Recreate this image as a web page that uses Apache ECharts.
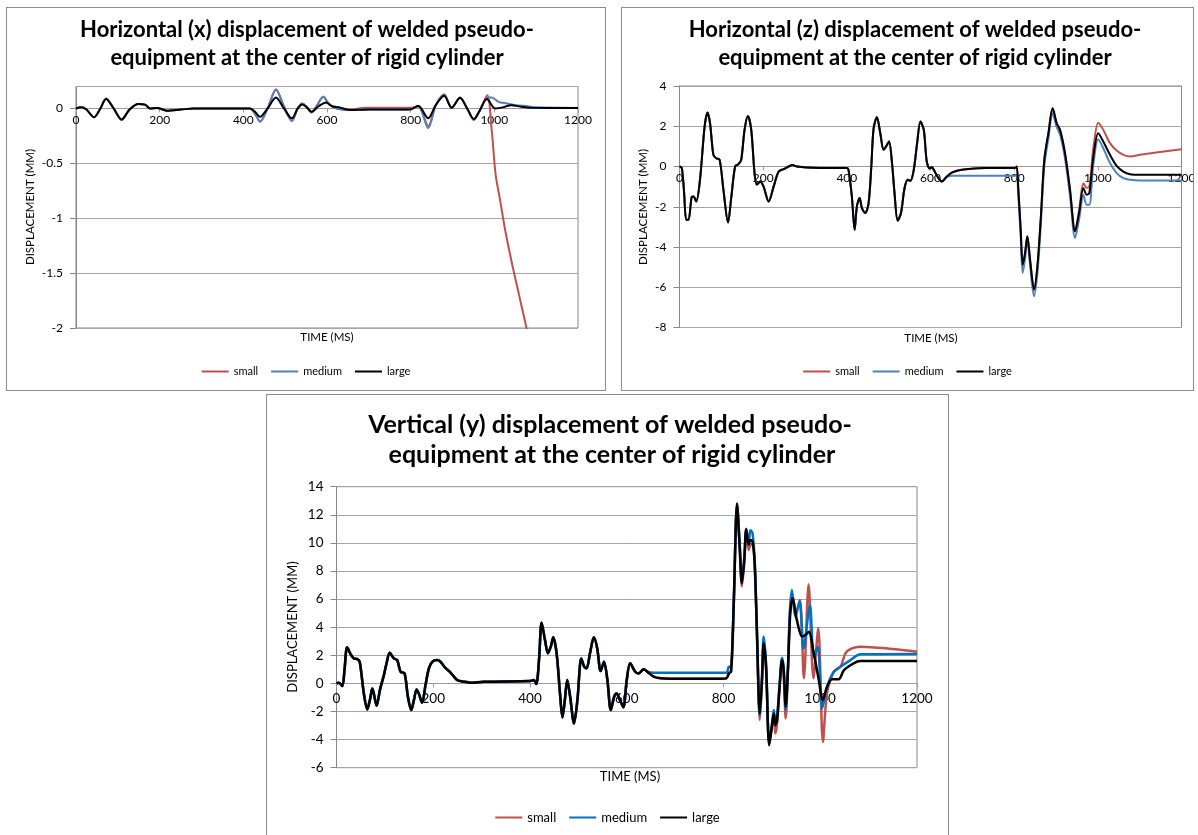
<!DOCTYPE html>
<html><head><meta charset="utf-8">
<script src="https://cdn.jsdelivr.net/npm/echarts@6/dist/echarts.min.js"></script>
<style>
html,body{margin:0;padding:0;background:#fff;width:1198px;height:835px;overflow:hidden;}
.c{position:absolute;}
.b{position:absolute;border:1px solid #8c8c8c;box-sizing:border-box;pointer-events:none;}
</style></head><body>
<div id="c1" class="c" style="left:6px;top:7px;width:600px;height:384px"></div>
<div class="b" style="left:6px;top:7px;width:600px;height:384px"></div>
<div id="c2" class="c" style="left:621px;top:7px;width:573px;height:384px"></div>
<div class="b" style="left:621px;top:7px;width:573px;height:384px"></div>
<div id="c3" class="c" style="left:266px;top:394px;width:683px;height:441px"></div>
<div class="b" style="left:266px;top:394px;width:683px;height:450px"></div>
<script>
var FONT = 'Lato';
var seriesNames = ['small', 'medium', 'large'];
var timeTicks = [0, 200, 400, 600, 800, 1000, 1200];

// Panel 1: horizontal (x) displacement
var xSmall = [[0,0],[12,0.01],[25,-0.01],[43,-0.08],[57,-0.01],[72,0.09],[90,0.0],[109,-0.105],[128,-0.01],[149,0.04],[165,0.035],[177,0.0],[194,0.005],[217,-0.02],[250,-0.01],[281,0],[416,0],[428,-0.05],[440,-0.12],[458,0.0],[478,0.176],[497,0.02],[516,-0.115],[530,0.0],[541,0.045],[552,0.01],[563,-0.036],[578,0.04],[591,0.106],[605,0.04],[623,0.0],[655,-0.01],[690,0.006],[750,0.006],[798,0.006],[818,0.02],[842,-0.16],[860,0.03],[880,0.127],[898,0.006],[918,0.10],[935,0.0],[951,-0.10],[965,-0.02],[983,0.12],[994,-0.21],[1003,-0.6],[1014,-0.84],[1026,-1.11],[1042,-1.41],[1058,-1.68],[1077,-2.0],[1090,-2.2]];
var xMedium = [[0,0],[12,0.01],[25,-0.01],[43,-0.08],[57,-0.01],[72,0.09],[90,0.0],[109,-0.105],[128,-0.01],[149,0.04],[165,0.035],[177,0.0],[194,0.005],[217,-0.02],[250,-0.01],[281,0],[416,0],[428,-0.05],[440,-0.12],[458,0.0],[478,0.167],[497,0.02],[516,-0.115],[530,0.0],[541,0.045],[552,0.01],[563,-0.036],[578,0.04],[591,0.106],[605,0.04],[623,0.0],[655,-0.015],[700,-0.01],[798,-0.01],[818,0.02],[842,-0.18],[860,0.03],[880,0.127],[898,0.006],[918,0.097],[935,0.0],[951,-0.106],[965,-0.02],[985,0.10],[994,0.10],[1010,0.06],[1030,0.045],[1050,0.03],[1080,0.02],[1101,0.01],[1200,0.005]];
var xLarge = [[0,0],[12,0.01],[25,-0.01],[43,-0.08],[57,-0.01],[72,0.085],[90,0.0],[109,-0.10],[128,-0.01],[149,0.04],[165,0.035],[177,0.0],[194,0.005],[217,-0.02],[250,-0.01],[281,0],[416,0],[428,-0.03],[440,-0.076],[458,0.0],[478,0.10],[497,0.0],[516,-0.09],[530,0.0],[541,0.036],[552,0.01],[563,-0.03],[580,0.02],[598,0.055],[612,0.02],[630,0.01],[655,-0.015],[700,-0.01],[798,-0.01],[818,0.024],[842,-0.09],[860,0.03],[880,0.115],[898,0.006],[918,0.097],[935,0.0],[951,-0.097],[965,-0.02],[982,0.085],[1002,0.0],[1020,0.01],[1041,0.03],[1065,0.015],[1085,0.006],[1200,0.005]];

// Panel 2: horizontal (z) displacement
var zCommon = [[0,0],[5.6,-0.08],[11,-1.3],[16,-2.64],[21.5,-2.64],[29.5,-1.5],[33.5,-1.49],[40,-1.74],[49,-0.66],[60,1.98],[67,2.68],[73,2.15],[81,0.58],[88,0.41],[96,0.33],[105,-1.16],[116,-2.78],[124,-1.49],[133,0],[141,0.12],[147.5,0.33],[155.5,1.82],[163.5,2.51],[171.5,1.82],[179.4,-0.33],[185,-0.9],[193,-0.74],[201,-1.0],[213,-1.74],[225,-1.0],[237,-0.25],[249,-0.13],[261,0],[270,0.07],[281,0],[305,-0.05],[336,-0.07],[400,-0.07],[404,-0.17],[412,-1.49],[418.7,-3.14],[424,-1.98],[430.6,-1.57],[436,-2.07],[444,-2.31],[452,-1.82],[458.5,0],[464,1.9],[472,2.45],[480,1.65],[488,0.83],[496,1.07],[501,1.24],[508,0.17],[514,-1.32],[521.5,-2.69],[529.5,-2.31],[538,-1.07],[546,-0.66],[552,-0.71],[560,-0.17],[568,1.16],[576,2.23],[584,1.82],[591,0.25],[598,-0.1],[603,-0.03],[608,-0.17],[619,-0.58],[627,-0.74]];
var zSmallTail = [[639,-0.5],[651,-0.3],[671,-0.17],[691,-0.12],[734,-0.08],[802,-0.08],[806,0.0],[810,-1.16],[815.6,-3.14],[820.4,-4.88],[826,-4.3],[831.5,-3.47],[838,-4.63],[847.5,-6.12],[855.5,-4.96],[863.4,-2.64],[872,0.33],[881.8,1.65],[892,2.89],[901.6,2.15],[909.6,1.82],[921.5,0.66],[933.5,-1.16],[945.5,-3.22],[955.8,-2.1],[965.4,-0.83],[973.3,-1.05],[979.7,-1.0],[989.3,0.9],[1001,2.18],[1013,1.82],[1029,1.16],[1045,0.79],[1061,0.58],[1077,0.5],[1101,0.58],[1200,0.86]];
var zMediumTail = [[639,-0.52],[651,-0.46],[700,-0.46],[802,-0.46],[806,-0.4],[810,-1.5],[815.6,-3.5],[820.4,-5.29],[826,-4.6],[831.5,-3.64],[838,-4.9],[847.5,-6.45],[855.5,-5.3],[863.4,-3.0],[872,0.0],[881.8,1.4],[892,2.64],[901.6,1.95],[909.6,1.6],[921.5,0.4],[933.5,-1.45],[945.5,-3.55],[955.8,-2.55],[965.4,-1.4],[973.3,-1.9],[979.7,-1.9],[989.3,0.1],[1001,1.36],[1013,0.91],[1029,0.17],[1045,-0.33],[1061,-0.58],[1077,-0.66],[1101,-0.69],[1200,-0.69]];
var zLargeTail = [[639,-0.5],[651,-0.3],[671,-0.17],[691,-0.12],[734,-0.08],[802,-0.08],[806,0.0],[810,-1.16],[815.6,-3.14],[820.4,-4.88],[826,-4.3],[831.5,-3.47],[838,-4.63],[847.5,-6.12],[855.5,-4.96],[863.4,-2.64],[872,0.33],[881.8,1.65],[892,2.89],[901.6,2.15],[909.6,1.82],[921.5,0.66],[933.5,-1.16],[945.5,-3.22],[955.8,-2.23],[965.4,-1.07],[973.3,-1.4],[979.7,-1.32],[989.3,0.5],[1001,1.65],[1013,1.24],[1029,0.58],[1045,0.03],[1061,-0.25],[1077,-0.38],[1101,-0.41],[1200,-0.41]];

// Panel 3: vertical (y) displacement
var yCommon = [[0,0],[5,0.05],[12,-0.19],[16.5,0.95],[22,2.57],[29,2.09],[36,1.78],[43,1.73],[48,1.54],[56.5,-0.71],[63.5,-1.85],[69,-1.19],[74,-0.36],[77,-0.71],[83,-1.59],[89.7,-0.48],[98,0.59],[103.5,1.43],[110,2.19],[118.6,1.78],[125.5,1.66],[132.4,0.83],[140.7,0.71],[147.6,-0.95],[154.5,-1.9],[160,-1.19],[165.5,-0.43],[170,-0.71],[177,-1.38],[184,-0.12],[191,1.07],[198,1.54],[208,1.66],[215,1.54],[224,1.14],[233.8,0.83],[242.8,0.48],[249.7,0.24],[263.4,0.12],[277,0.05],[305,0.12],[401,0.17],[408,0.24],[413,-0.05],[418.6,1.66],[424,4.32],[431,3.09],[437,2.14],[443,2.61],[448,3.28],[455,2.14],[462,-0.71],[467,-2.42],[472,-1.19],[477,0.24],[483,-0.95],[491,-2.85],[498,-1.19],[506,1.78],[512,1.19],[517,1.07],[524,2.14],[532,3.28],[539,2.49],[546,0.88],[553,1.54],[560,0.24],[567,-1.9],[574,-0.95],[579,-0.71],[586,-1.19],[593,-1.7],[600,0.24],[607,1.43],[617.6,0.83],[624.5,0.71],[635,1.0]];
var ySmallTail = [[645,0.76],[655.6,0.48],[670,0.36],[690,0.33],[793.5,0.33],[806,0.36],[811,0.71],[815.6,0.83],[821,5.4],[828,12.6],[833.5,9.5],[838,6.9],[843,8.6],[847,10.8],[852,9.5],[855.5,9.86],[860,9.9],[864.5,8.4],[869,3.6],[875,-2.61],[879.6,0.1],[883,2.9],[888,1.0],[894.5,-4.3],[900.4,-3.0],[904,-2.5],[907.3,-3.56],[910.7,-2.9],[916,-0.3],[921,1.7],[924.4,0.6],[928.6,-2.5],[933.4,1.0],[937,4.8],[942.7,6.3],[950,4.99],[957.9,5.94],[966.2,0.36],[975.9,7.05],[986,0.36],[995.9,3.92],[1005.5,-4.16],[1014,-0.71],[1028,0.83],[1042,1.19],[1052,2.14],[1063,2.45],[1083,2.61],[1139,2.49],[1200,2.26]];
var yMediumTail = [[645,0.8],[655.6,0.76],[700,0.76],[806,0.76],[811,1.19],[815.6,1.1],[821,5.6],[828,12.8],[833.5,9.9],[838,7.2],[843,9.0],[847,11.0],[852,10.0],[855.5,10.9],[860,10.7],[864.5,8.7],[869,4.0],[875,-2.3],[879.6,0.6],[883,3.33],[888,1.4],[894.5,-4.2],[900.4,-2.8],[904,-1.9],[907.3,-2.8],[910.7,-2.4],[916,0.0],[921,1.83],[924.4,1.1],[928.6,-1.9],[933.4,1.3],[937,5.0],[941.3,6.65],[948.9,4.75],[957.2,5.87],[965.5,2.49],[978.6,5.58],[986.6,1.9],[994.9,2.61],[1003.9,-1.78],[1014.2,-0.24],[1028,0.83],[1041.8,1.19],[1062.5,1.66],[1083.2,2.07],[1200,2.09]];
var yLargeTail = [[645,0.76],[655.6,0.48],[670,0.36],[690,0.33],[793.5,0.33],[806,0.36],[811,0.71],[815.6,0.83],[821,5.46],[828,12.78],[833.5,9.74],[838,7.13],[843,8.79],[847,10.97],[852,9.86],[855.5,10.21],[860,10.1],[864.5,8.55],[869,3.8],[875,-2.14],[879.6,0.24],[883,2.85],[888,1.19],[894.5,-4.4],[900.4,-2.97],[904,-2.14],[907.3,-2.97],[910.7,-2.61],[916,-0.24],[921,1.66],[924.4,0.95],[928.6,-1.66],[933.4,1.19],[938,4.99],[942.7,6.06],[952.4,4.4],[962.5,3.33],[969.4,3.44],[976.3,3.68],[986.6,2.14],[997,0.24],[1005,-1.19],[1014,-0.24],[1024.5,0.29],[1038,0.29],[1049,0.95],[1069,1.43],[1083,1.59],[1200,1.59]];

function build(c) {
  var g = [];
  c.titleLines.forEach(function (t) {
    g.push({type:'text', x:t[1], y:t[2], style:{text:t[0], fontFamily:FONT, fontWeight:'bold', fontSize:c.titleSize, fill:'#000', align:'center', verticalAlign:'middle'}});
  });
  g.push({type:'text', x:c.yName[0], y:c.yName[1], rotation:Math.PI/2, style:{text:'DISPLACEMENT (MM)', fontFamily:FONT, fontSize:c.nameSize, fill:'#000', align:'center', verticalAlign:'middle'}});
  g.push({type:'text', x:c.xName[0], y:c.xName[1], style:{text:'TIME (MS)', fontFamily:FONT, fontSize:c.nameSize, fill:'#000', align:'center', verticalAlign:'middle'}});
  // x axis sits on the zero level of the y scale
  var zeroOffset = -((0 - c.yMin) / (c.yMax - c.yMin)) * c.grid[3];
  return {
    animation:false,
    backgroundColor:'#fff',
    textStyle:{fontFamily:FONT},
    grid:{left:c.grid[0], top:c.grid[1], width:c.grid[2], height:c.grid[3], show:true, borderColor:'#868686', borderWidth:1, outerBoundsMode:'none', containLabel:false},
    legend:{left:'center', top:c.legendTop, icon:'rect', itemWidth:27, itemHeight:2, itemGap:13, data:seriesNames, textStyle:{fontFamily:FONT, fontSize:c.legendSize, color:'#000'}},
    xAxis:{type:'value', position:'bottom', offset:zeroOffset, min:timeTicks[0], max:timeTicks[timeTicks.length-1], interval:timeTicks[1]-timeTicks[0],
      axisLine:{show:true, onZero:false, lineStyle:{color:'#9a9a9a', width:1}},
      axisTick:{show:true, length:4, lineStyle:{color:'#9a9a9a'}},
      axisLabel:{fontFamily:FONT, fontSize:c.tickSize, color:'#000', margin:c.xMargin, formatter:function(v){return String(v);}},
      splitLine:{show:false}},
    yAxis:{type:'value', min:c.yMin, max:c.yMax, interval:c.yInt,
      axisLine:{show:true, lineStyle:{color:'#868686', width:1}},
      axisTick:{show:true, inside:false, length:6, lineStyle:{color:'#868686'}},
      axisLabel:{fontFamily:FONT, fontSize:c.tickSize, color:'#000', margin:c.yMargin, showMaxLabel:c.showMax, formatter:function(v){return String(v);}},
      splitLine:{show:true, lineStyle:{color:'#a6a6a6', width:1}}},
    graphic:g,
    series:[
      {type:'line', name:'small', data:c.data[0], symbol:'none', smooth:0.3, clip:true, lineStyle:{width:c.lw, color:'#C0504D'}, itemStyle:{color:'#C0504D'}},
      {type:'line', name:'medium', data:c.data[1], symbol:'none', smooth:0.3, clip:true, lineStyle:{width:c.lw, color:c.blue}, itemStyle:{color:c.blue}},
      {type:'line', name:'large', data:c.data[2], symbol:'none', smooth:0.3, clip:true, lineStyle:{width:c.lw, color:'#000'}, itemStyle:{color:'#000'}}
    ]
  };
}

var ch1 = echarts.init(document.getElementById('c1'), null, {renderer:'canvas'});
ch1.setOption(build({
  titleLines:[['Horizontal (x) displacement of welded pseudo-',301,23],['equipment at the center of rigid cylinder',301,51]],
  titleSize:22, nameSize:11.5, tickSize:12, legendSize:11, legendTop:354,
  yName:[24,200], xName:[321,330],
  grid:[70,79.5,502,241.5], yMin:-2, yMax:0.2, yInt:0.5, showMax:false,
  xMargin:6, yMargin:13, lw:2, blue:'#4F81BD',
  data:[xSmall, xMedium, xLarge]
}));

var ch2 = echarts.init(document.getElementById('c2'), null, {renderer:'canvas'});
ch2.setOption(build({
  titleLines:[['Horizontal (z) displacement of welded pseudo-',294,23],['equipment at the center of rigid cylinder',294,51]],
  titleSize:22, nameSize:11.5, tickSize:12, legendSize:11, legendTop:354,
  yName:[22,200], xName:[310,331],
  grid:[58.5,79,502,241.5], yMin:-8, yMax:4, yInt:2, showMax:true,
  xMargin:6, yMargin:13, lw:2, blue:'#4F81BD',
  data:[zCommon.concat(zSmallTail), zCommon.concat(zMediumTail), zCommon.concat(zLargeTail)]
}));

var ch3 = echarts.init(document.getElementById('c3'), null, {renderer:'canvas'});
ch3.setOption(build({
  titleLines:[['Vertical (y) displacement of welded pseudo-',344,31],['equipment at the center of rigid cylinder',346,61]],
  titleSize:25, nameSize:13, tickSize:13.5, legendSize:13, legendTop:412,
  yName:[27,233], xName:[364,383],
  grid:[70.5,92.7,580.5,281], yMin:-6, yMax:14, yInt:2, showMax:true,
  xMargin:8, yMargin:13, lw:2.5, blue:'#0070C0',
  data:[yCommon.concat(ySmallTail), yCommon.concat(yMediumTail), yCommon.concat(yLargeTail)]
}));
</script>
</body></html>
